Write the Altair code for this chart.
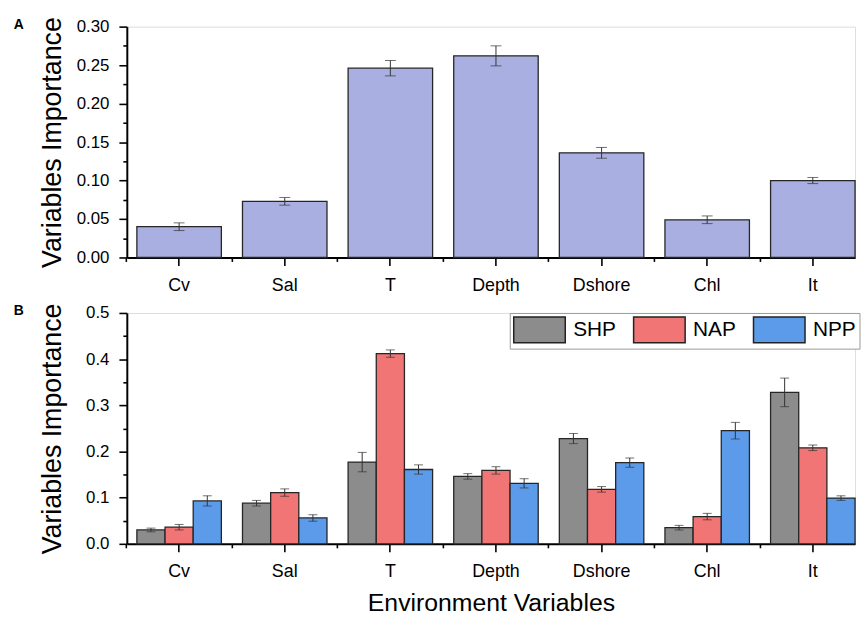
import altair as alt
import pandas as pd

# ---------------- data ----------------
categories = ["Cv", "Sal", "T", "Depth", "Dshore", "Chl", "It"]

a_values = [0.040, 0.073, 0.246, 0.262, 0.136, 0.049, 0.100]
a_errors = [0.005, 0.005, 0.010, 0.013, 0.007, 0.005, 0.004]

series = ["SHP", "NAP", "NPP"]
shp_values = [0.030, 0.088, 0.177, 0.146, 0.228, 0.035, 0.328]
shp_errors = [0.004, 0.006, 0.021, 0.006, 0.011, 0.005, 0.031]
nap_values = [0.036, 0.111, 0.412, 0.159, 0.118, 0.059, 0.208]
nap_errors = [0.006, 0.008, 0.008, 0.008, 0.006, 0.007, 0.006]
npp_values = [0.093, 0.056, 0.161, 0.131, 0.176, 0.245, 0.099]
npp_errors = [0.011, 0.007, 0.010, 0.010, 0.010, 0.018, 0.005]

y_ticks_a = [0.0, 0.025, 0.05, 0.075, 0.10, 0.125, 0.15, 0.175, 0.20, 0.225, 0.25, 0.275, 0.30]
y_ticks_b = [0.0, 0.05, 0.1, 0.15, 0.2, 0.25, 0.3, 0.35, 0.4, 0.45, 0.5]

color_a = "#A9B0E1"
series_colors = ["#8C8C8C", "#F27575", "#5B9BE9"]

# ---------------- tables ----------------
df_a = pd.DataFrame({"var": categories, "imp": a_values, "err": a_errors})
df_a["lo"] = df_a["imp"] - df_a["err"]
df_a["hi"] = df_a["imp"] + df_a["err"]

rows = []
for s, vals, errs in zip(series, [shp_values, nap_values, npp_values],
                         [shp_errors, nap_errors, npp_errors]):
    for c, v, e in zip(categories, vals, errs):
        rows.append({"var": c, "group": s, "imp": v, "lo": v - e, "hi": v + e})
df_b = pd.DataFrame(rows)

FONT = "Liberation Sans"
W, H = 735, 233

xscale = alt.Scale(domain=categories, paddingInner=0.2, paddingOuter=0.0476, align=1)


def main_x_axis(title=None):
    kw = dict(orient="bottom", labelAngle=0, labelFont=FONT, labelFontSize=18,
              labelColor="black", labelPadding=11, tickSize=8, tickWidth=1.6,
              tickColor="black", domainColor="black", domainWidth=2, grid=False)
    if title:
        kw.update(title=title, titleFont=FONT, titleFontSize=25, titleFontWeight="normal",
                  titleColor="black", titlePadding=10)
    else:
        kw.update(title=None)
    return alt.Axis(**kw)


minor_x_axis = alt.Axis(orient="bottom", labels=False, domain=False, ticks=True, tickSize=4,
                        tickWidth=1.6, tickColor="black", bandPosition=-0.125, title=None,
                        grid=False)


def y_axis(values, major_test, fmt):
    return alt.Axis(
        values=values,
        labelExpr=f"({major_test}) ? format(datum.value, '{fmt}') : ''",
        labelFont=FONT, labelFontSize=17, labelColor="black", labelPadding=10,
        labelOverlap=False,
        tickSize={"condition": {"test": major_test, "value": 8}, "value": 4},
        tickWidth=1.6, tickColor="black", domainColor="black", domainWidth=2, grid=False,
        title="Variables Importance", titleFont=FONT, titleFontSize=27,
        titleFontWeight="normal", titleColor="black", titleX=-67,
        titleBaseline="alphabetic",
    )


major_a = "abs(datum.value*20 - round(datum.value*20)) < 0.000001"
major_b = "abs(datum.value*10 - round(datum.value*10)) < 0.000001"
yax_a = y_axis(y_ticks_a, major_a, ".2f")
yax_b = y_axis(y_ticks_b, major_b, ".1f")


def panel_title(letter):
    return alt.TitleParams(letter, anchor="start", frame="bounds", font=FONT, fontSize=14,
                           fontWeight="bold", color="black", offset=0, dx=-25, dy=26,
                           baseline="alphabetic")


# ---------------- panel A ----------------
ya = alt.Scale(domain=[0, 0.3], nice=False)
base_a = alt.Chart(df_a)
bars_a = base_a.mark_bar(color=color_a, stroke="#262626", strokeWidth=1.3).encode(
    x=alt.X("var:N", sort=categories, scale=xscale, axis=main_x_axis()),
    y=alt.Y("imp:Q", scale=ya, axis=yax_a),
)
rule_a = base_a.mark_rule(color="#333333", strokeWidth=1).encode(
    x=alt.X("var:N", sort=categories, scale=xscale, axis=minor_x_axis),
    y=alt.Y("lo:Q", scale=ya, axis=yax_a),
    y2="hi:Q",
)
cap_hi_a = base_a.mark_tick(color="#333333", thickness=1, size=11).encode(
    x=alt.X("var:N", sort=categories, scale=xscale, axis=None),
    y=alt.Y("hi:Q", scale=ya, axis=yax_a),
)
cap_lo_a = base_a.mark_tick(color="#333333", thickness=1, size=11).encode(
    x=alt.X("var:N", sort=categories, scale=xscale, axis=None),
    y=alt.Y("lo:Q", scale=ya, axis=yax_a),
)
panel_a = alt.layer(bars_a, rule_a, cap_hi_a, cap_lo_a).resolve_axis(x="independent").properties(
    width=W, height=H, title=panel_title("A"),
)

# ---------------- panel B ----------------
yb = alt.Scale(domain=[0, 0.5], nice=False)
xoff = alt.XOffset("group:N", sort=series, scale=alt.Scale(domain=series))
base_b = alt.Chart(df_b)
bars_b = base_b.mark_bar(stroke="#262626", strokeWidth=1.3).encode(
    x=alt.X("var:N", sort=categories, scale=xscale, axis=main_x_axis("Environment Variables")),
    xOffset=xoff,
    y=alt.Y("imp:Q", scale=yb, axis=yax_b),
    color=alt.Color(
        "group:N", sort=series, scale=alt.Scale(domain=series, range=series_colors),
        legend=alt.Legend(
            title=None, orient="none", legendX=386.5, legendY=0, direction="horizontal",
            symbolType="M-1,-1H3V1H-1Z", symbolSize=676, symbolStrokeColor="#222222",
            symbolStrokeWidth=1.5, symbolOpacity=1, labelFont=FONT, labelFontSize=21,
            labelColor="black", labelOffset=33, columnPadding=14, padding=3,
            strokeColor="#9a9a9a", fillColor="white",
        ),
    ),
)
rule_b = base_b.mark_rule(color="#333333", strokeWidth=1).encode(
    x=alt.X("var:N", sort=categories, scale=xscale, axis=minor_x_axis),
    xOffset=xoff,
    y=alt.Y("lo:Q", scale=yb, axis=yax_b),
    y2="hi:Q",
)
cap_hi_b = base_b.mark_tick(color="#333333", thickness=1, size=9).encode(
    x=alt.X("var:N", sort=categories, scale=xscale, axis=None),
    xOffset=xoff,
    y=alt.Y("hi:Q", scale=yb, axis=yax_b),
)
cap_lo_b = base_b.mark_tick(color="#333333", thickness=1, size=9).encode(
    x=alt.X("var:N", sort=categories, scale=xscale, axis=None),
    xOffset=xoff,
    y=alt.Y("lo:Q", scale=yb, axis=yax_b),
)
panel_b = alt.layer(bars_b, rule_b, cap_hi_b, cap_lo_b).resolve_axis(x="independent").properties(
    width=W, height=H, title=panel_title("B"),
)

chart = alt.vconcat(panel_a, panel_b, spacing=56, bounds="flush").resolve_legend(
    color="independent"
).properties(
    padding={"left": 13, "top": 13, "right": 0, "bottom": 0}
).configure_view(strokeWidth=0, stroke="transparent").configure(background="white")

chart.save("out.html", embed_options={"renderer": "svg", "actions": False})
